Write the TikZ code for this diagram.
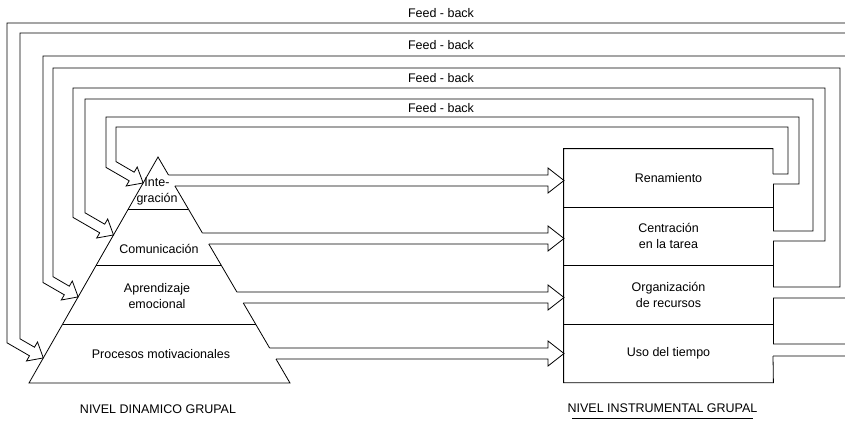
\documentclass[tikz,border=0pt]{standalone}
\usepackage{fontspec}
\setmainfont{Liberation Sans}
\usetikzlibrary{positioning,calc}

\begin{document}
\begin{tikzpicture}[x=1pt, y=-1pt, line width=0.8pt,
    font=\fontsize{12.5}{16}\selectfont,
    box/.style={minimum width=209pt, minimum height=57.75pt, inner sep=0pt, align=center},
    lbl/.style={align=center, inner sep=0pt}]
  \useasboundingbox (0,0) rectangle (845,420);
  \clip (0,0) rectangle (845,420);

  % pyramid (nivel dinamico)
  \coordinate (apex)  at (158,157);
  \coordinate (lbase) at (29,383);
  \coordinate (rbase) at (290,383);
  \draw (276.0,359) -- (rbase) -- (lbase) -- (apex) -- (168.5,175)
        (174.9,186) -- (202.4,233)
        (208.8,244) -- (236.9,292)
        (243.3,303) -- (269.6,348);
  \draw (128.3,209) -- (188.4,209)
        (96.4,265)  -- (221.1,265)
        (62.7,324)  -- (255.5,324);

  \node[lbl] (int) at (157,191.5) {Inte-\\gración};
  \node[lbl] (com) at (159,249)   {Comunicación};
  \node[lbl] (apr) at (157,296)   {Aprendizaje\\emocional};
  \node[lbl] (pro) at (161,354)   {Procesos motivacionales};

  \coordinate (t1) at ($(apex)!0.115!(lbase)$);
  \coordinate (t2) at ($(apex)!0.345!(lbase)$);
  \coordinate (t3) at ($(apex)!0.619!(lbase)$);
  \coordinate (t4) at ($(apex)!0.889!(lbase)$);

  % boxes (nivel instrumental)
  \node[box] (ren) at (668.5,177.9)     {Renamiento};
  \node[box, below=0pt of ren] (cen)    {Centración\\en la tarea};
  \node[box, below=0pt of cen] (org)    {Organización\\de recursos};
  \node[box, below=0pt of org] (uso)    {Uso del tiempo};

  \draw (773,174) |- (ren.north west) |- (uso.south east) -- (773,356);
  \draw (773,184) -- (773,231) (773,241) -- (773,287) (773,298) -- (773,344);
  \draw (ren.south west) -- (ren.south east)
        (org.south west) -- (org.south east);
  \draw[line width=1.3pt] (cen.south west) -- (cen.south east);

  % wide arrows pyramid -> boxes
  \draw (168.5,175) -- (548,175) -- (548,168) -- (564,180.5) -- (548,193) -- (548,186) -- (174.9,186);
  \draw (202.4,233) -- (548,233) -- (548,226) -- (564,238.5) -- (548,251) -- (548,244) -- (208.8,244);
  \draw (236.9,292) -- (548,292) -- (548,285) -- (564,297.5) -- (548,310) -- (548,303) -- (243.3,303);
  \draw (269.6,348) -- (548,348) -- (548,341) -- (564,353.5) -- (548,366) -- (548,359) -- (276.0,359);

  % feed-back loops
  \draw (773,174) -| (788,127) -| (116,161.6) -- (134.2,172.2) -- (137.2,167.0) -- (t1)
        -- (126.2,186.0) -- (129.2,180.8) -- (106,167.4) |- (799,117) |- (773,184);
  \draw (773,231) -| (813,99) -| (85,212.8) -- (104.7,224.2) -- (107.7,219.0) -- (t2)
        -- (96.7,238.0) -- (99.7,232.8) -- (73,217.4) |- (825,88) |- (773,241);
  \draw (773,287) -| (840,68) -| (53,276.7) -- (69.3,286.2) -- (72.3,281.0) -- (t3)
        -- (61.3,300.0) -- (64.3,294.8) -- (43,282.5) |- (860,56) |- (773,298);
  \draw (773,344) -| (860,33) -| (20,338.8) -- (34.5,347.2) -- (37.5,342.0) -- (t4)
        -- (26.5,361.0) -- (29.5,355.8) -- (7,342.8) |- (860,23) |- (773,356);

  \node (fb4) at (441,13)  {Feed - back};
  \node (fb3) at (441,45)  {Feed - back};
  \node (fb2) at (441,78)  {Feed - back};
  \node (fb1) at (441,108) {Feed - back};

  % level captions
  \node (din) at (158,409)   {NIVEL DINAMICO GRUPAL};
  \node (ins) at (662.5,408) {NIVEL INSTRUMENTAL GRUPAL};
  \draw (572,418) -- (753,418);
\end{tikzpicture}
\end{document}
